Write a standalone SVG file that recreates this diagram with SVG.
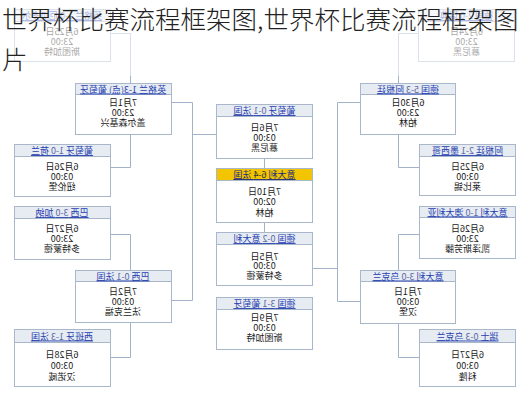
<svg xmlns="http://www.w3.org/2000/svg" width="528" height="400" viewBox="0 0 528 400">
<style>
.bx{fill:#fff;stroke:#a9b7cb;stroke-width:1}
.hd{fill:#e7ebf2;stroke:#a9b7cb;stroke-width:1}
.hy{fill:#f2c500;stroke:#a9b7cb;stroke-width:1}
.ht{font-family:"Noto Sans CJK SC","Noto Sans",sans-serif;font-size:9px;fill:#2540b0;text-anchor:middle;text-decoration:underline}
.sc{fill:#5a6aa8}
.bt{font-family:"Noto Sans CJK SC","Noto Sans",sans-serif;font-size:9px;fill:#1a1a1a;text-anchor:middle}
.cn{fill:none;stroke:#a3b2c8;stroke-width:1}
.ti{font-family:"Noto Sans CJK SC",sans-serif;font-size:25.5px;font-weight:300;fill:#222}
</style>
<rect width="528" height="400" fill="#fff"/>
<g id="connectors" class="cn">
<path d="M110.5 33.5H130.5V83"/>
<path d="M110.5 167.5H130.5V134"/>
<path d="M171 102.5H192.5V300.5H171"/>
<path d="M192.5 134.5H216"/>
<path d="M110.5 234.5H130.5V270"/>
<path d="M110.5 357.5H130.5V322"/>
<path d="M419 33.5H398.5V83"/>
<path d="M419 167.5H398.5V134"/>
<path d="M360 102.5H337.5V301.5H360"/>
<path d="M337.5 268.5H313"/>
<path d="M419 234.5H398.5V270"/>
<path d="M419 357.5H398.5V323"/>
<path d="M264.5 158V168"/>
<path d="M264.5 222V232"/>
</g>
<g id="L1">
<rect class="bx" x="14.5" y="9.5" width="96" height="52"/><rect class="hd" x="14.5" y="9.5" width="96" height="12"/>
<text class="ht" x="62" y="19" transform="matrix(-1 0 0 1 124 0)">英格兰 <tspan class="sc">1-0</tspan> 厄瓜多尔</text>
<text class="bt" x="62" y="35" transform="matrix(-1 0 0 1 124 0)">6月25日</text>
<text class="bt" x="62" y="45" transform="matrix(-1 0 0 1 124 0)">23:00</text>
<text class="bt" x="62" y="55" transform="matrix(-1 0 0 1 124 0)">斯图加特</text>
</g>
<g id="L2">
<rect class="bx" x="14.5" y="144.5" width="96" height="52"/><rect class="hd" x="14.5" y="144.5" width="96" height="12"/>
<text class="ht" x="62" y="154" transform="matrix(-1 0 0 1 124 0)">葡萄牙 <tspan class="sc">1-0</tspan> 荷兰</text>
<text class="bt" x="62" y="170" transform="matrix(-1 0 0 1 124 0)">6月26日</text>
<text class="bt" x="62" y="180" transform="matrix(-1 0 0 1 124 0)">03:00</text>
<text class="bt" x="62" y="190" transform="matrix(-1 0 0 1 124 0)">纽伦堡</text>
</g>
<g id="L3">
<rect class="bx" x="14.5" y="206.5" width="96" height="53"/><rect class="hd" x="14.5" y="206.5" width="96" height="12"/>
<text class="ht" x="62" y="216" transform="matrix(-1 0 0 1 124 0)">巴西 <tspan class="sc">3-0</tspan> 加纳</text>
<text class="bt" x="62" y="232" transform="matrix(-1 0 0 1 124 0)">6月27日</text>
<text class="bt" x="62" y="242" transform="matrix(-1 0 0 1 124 0)">23:00</text>
<text class="bt" x="62" y="252" transform="matrix(-1 0 0 1 124 0)">多特蒙德</text>
</g>
<g id="L4">
<rect class="bx" x="14.5" y="329.5" width="96" height="57"/><rect class="hd" x="14.5" y="329.5" width="96" height="13"/>
<text class="ht" x="62" y="339.5" transform="matrix(-1 0 0 1 124 0)">西班牙 <tspan class="sc">1-3</tspan> 法国</text>
<text class="bt" x="62" y="358" transform="matrix(-1 0 0 1 124 0)">6月28日</text>
<text class="bt" x="62" y="369" transform="matrix(-1 0 0 1 124 0)">03:00</text>
<text class="bt" x="62" y="380" transform="matrix(-1 0 0 1 124 0)">汉诺威</text>
</g>
<g id="LQ1">
<rect class="bx" x="75.5" y="83.5" width="96" height="51"/><rect class="hd" x="75.5" y="83.5" width="96" height="11"/>
<text class="ht" x="123" y="92.5" transform="matrix(-1 0 0 1 246 0)">英格兰 1-3(点) 葡萄牙</text>
<text class="bt" x="123" y="106" transform="matrix(-1 0 0 1 246 0)">7月1日</text>
<text class="bt" x="123" y="116" transform="matrix(-1 0 0 1 246 0)">23:00</text>
<text class="bt" x="123" y="126" transform="matrix(-1 0 0 1 246 0)">盖尔森基兴</text>
</g>
<g id="LQ2">
<rect class="bx" x="75.5" y="270.5" width="96" height="52"/><rect class="hd" x="75.5" y="270.5" width="96" height="11"/>
<text class="ht" x="123" y="279.5" transform="matrix(-1 0 0 1 246 0)">巴西 <tspan class="sc">0-1</tspan> 法国</text>
<text class="bt" x="123" y="295" transform="matrix(-1 0 0 1 246 0)">7月2日</text>
<text class="bt" x="123" y="305" transform="matrix(-1 0 0 1 246 0)">03:00</text>
<text class="bt" x="123" y="315" transform="matrix(-1 0 0 1 246 0)">法兰克福</text>
</g>
<g id="C1">
<rect class="bx" x="216.5" y="104.5" width="96" height="54"/><rect class="hd" x="216.5" y="104.5" width="96" height="12"/>
<text class="ht" x="264.5" y="114" transform="matrix(-1 0 0 1 529 0)">葡萄牙 <tspan class="sc">0-1</tspan> 法国</text>
<text class="bt" x="264.5" y="131" transform="matrix(-1 0 0 1 529 0)">7月6日</text>
<text class="bt" x="264.5" y="141" transform="matrix(-1 0 0 1 529 0)">03:00</text>
<text class="bt" x="264.5" y="151" transform="matrix(-1 0 0 1 529 0)">慕尼黑</text>
</g>
<g id="C2">
<rect class="bx" x="216.5" y="168.5" width="96" height="54"/><rect class="hy" x="216.5" y="168.5" width="96" height="12"/>
<text class="ht" x="264.5" y="178" transform="matrix(-1 0 0 1 529 0)" style="fill:#1a2a80">意大利 <tspan style="fill:#333">6-4</tspan> 法国</text>
<text class="bt" x="264.5" y="195" transform="matrix(-1 0 0 1 529 0)">7月10日</text>
<text class="bt" x="264.5" y="205" transform="matrix(-1 0 0 1 529 0)">02:00</text>
<text class="bt" x="264.5" y="216" transform="matrix(-1 0 0 1 529 0)">柏林</text>
</g>
<g id="C3">
<rect class="bx" x="216.5" y="232.5" width="96" height="53"/><rect class="hd" x="216.5" y="232.5" width="96" height="12"/>
<text class="ht" x="264.5" y="242" transform="matrix(-1 0 0 1 529 0)">德国 <tspan class="sc">0-2</tspan> 意大利</text>
<text class="bt" x="264.5" y="260" transform="matrix(-1 0 0 1 529 0)">7月5日</text>
<text class="bt" x="264.5" y="269" transform="matrix(-1 0 0 1 529 0)">03:00</text>
<text class="bt" x="264.5" y="279" transform="matrix(-1 0 0 1 529 0)">多特蒙德</text>
</g>
<g id="C4">
<rect class="bx" x="216.5" y="297.5" width="96" height="52"/><rect class="hd" x="216.5" y="297.5" width="96" height="12"/>
<text class="ht" x="264.5" y="307" transform="matrix(-1 0 0 1 529 0)">德国 <tspan class="sc">3-1</tspan> 葡萄牙</text>
<text class="bt" x="264.5" y="321" transform="matrix(-1 0 0 1 529 0)">7月9日</text>
<text class="bt" x="264.5" y="331" transform="matrix(-1 0 0 1 529 0)">03:00</text>
<text class="bt" x="264.5" y="341" transform="matrix(-1 0 0 1 529 0)">斯图加特</text>
</g>
<g id="R1">
<rect class="bx" x="418.5" y="9.5" width="96" height="52"/><rect class="hd" x="418.5" y="9.5" width="96" height="12"/>
<text class="ht" x="466.5" y="19" transform="matrix(-1 0 0 1 933 0)">德国 <tspan class="sc">2-0</tspan> 瑞典</text>
<text class="bt" x="466.5" y="35" transform="matrix(-1 0 0 1 933 0)">6月24日</text>
<text class="bt" x="466.5" y="45" transform="matrix(-1 0 0 1 933 0)">23:00</text>
<text class="bt" x="466.5" y="55" transform="matrix(-1 0 0 1 933 0)">慕尼黑</text>
</g>
<g id="R2">
<rect class="bx" x="419.5" y="144.5" width="96" height="51"/><rect class="hd" x="419.5" y="144.5" width="96" height="12"/>
<text class="ht" x="467.5" y="154" transform="matrix(-1 0 0 1 935 0)">阿根廷 <tspan class="sc">2-1</tspan> 墨西哥</text>
<text class="bt" x="467.5" y="170" transform="matrix(-1 0 0 1 935 0)">6月25日</text>
<text class="bt" x="467.5" y="180" transform="matrix(-1 0 0 1 935 0)">03:00</text>
<text class="bt" x="467.5" y="190" transform="matrix(-1 0 0 1 935 0)">莱比锡</text>
</g>
<g id="R3">
<rect class="bx" x="419.5" y="206.5" width="96" height="52"/><rect class="hd" x="419.5" y="206.5" width="96" height="11"/>
<text class="ht" x="467.5" y="215.5" transform="matrix(-1 0 0 1 935 0)">意大利 <tspan class="sc">1-0</tspan> 澳大利亚</text>
<text class="bt" x="467.5" y="232" transform="matrix(-1 0 0 1 935 0)">6月26日</text>
<text class="bt" x="467.5" y="242" transform="matrix(-1 0 0 1 935 0)">23:00</text>
<text class="bt" x="467.5" y="252" transform="matrix(-1 0 0 1 935 0)">凯泽斯劳滕</text>
</g>
<g id="R4">
<rect class="bx" x="419.5" y="329.5" width="96" height="57"/><rect class="hd" x="419.5" y="329.5" width="96" height="13"/>
<text class="ht" x="467.5" y="339.5" transform="matrix(-1 0 0 1 935 0)">瑞士 <tspan class="sc">0-3</tspan> 乌克兰</text>
<text class="bt" x="467.5" y="358" transform="matrix(-1 0 0 1 935 0)">6月27日</text>
<text class="bt" x="467.5" y="369" transform="matrix(-1 0 0 1 935 0)">03:00</text>
<text class="bt" x="467.5" y="380" transform="matrix(-1 0 0 1 935 0)">科隆</text>
</g>
<g id="RQ1">
<rect class="bx" x="360.5" y="83.5" width="95" height="51"/><rect class="hd" x="360.5" y="83.5" width="95" height="11"/>
<text class="ht" x="408" y="92.5" transform="matrix(-1 0 0 1 816 0)">德国 <tspan class="sc">5-3</tspan> 阿根廷</text>
<text class="bt" x="408" y="106" transform="matrix(-1 0 0 1 816 0)">6月30日</text>
<text class="bt" x="408" y="116" transform="matrix(-1 0 0 1 816 0)">23:00</text>
<text class="bt" x="408" y="126" transform="matrix(-1 0 0 1 816 0)">柏林</text>
</g>
<g id="RQ2">
<rect class="bx" x="360.5" y="270.5" width="95" height="53"/><rect class="hd" x="360.5" y="270.5" width="95" height="11"/>
<text class="ht" x="408" y="279.5" transform="matrix(-1 0 0 1 816 0)">意大利 <tspan class="sc">3-0</tspan> 乌克兰</text>
<text class="bt" x="408" y="295" transform="matrix(-1 0 0 1 816 0)">7月1日</text>
<text class="bt" x="408" y="305" transform="matrix(-1 0 0 1 816 0)">03:00</text>
<text class="bt" x="408" y="315" transform="matrix(-1 0 0 1 816 0)">汉堡</text>
</g>
<rect x="0" y="0" width="528" height="76" fill="#fff" fill-opacity="0.6"/>
<g id="title">
<text class="ti" x="2" y="29">世界杯比赛流程框架图,世界杯比赛流程框架图</text>
<text class="ti" x="2" y="69">片</text>
</g>
</svg>
